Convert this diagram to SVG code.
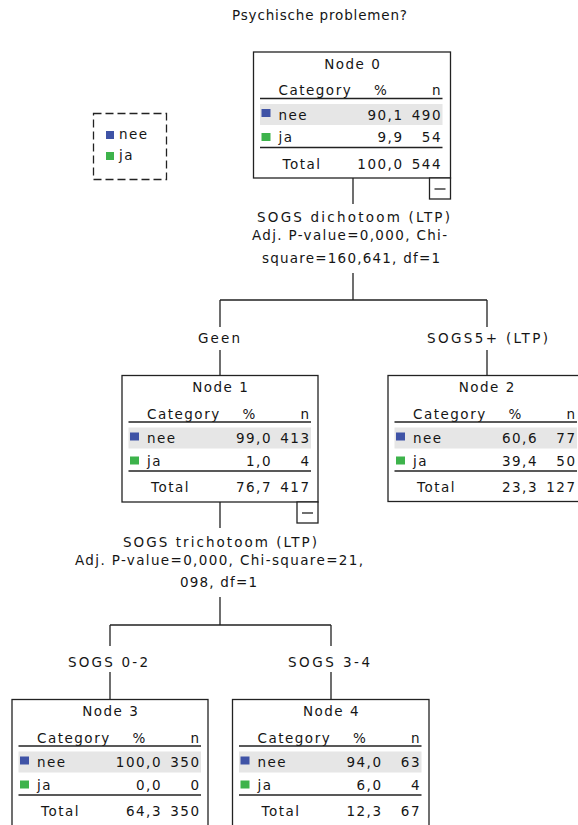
<svg xmlns="http://www.w3.org/2000/svg" width="578" height="825" viewBox="0 0 578 825">
<style>
text{font-family:"DejaVu Sans","Verdana",sans-serif;font-size:13.5px;fill:#151515;letter-spacing:1.5px}
.m{text-anchor:middle}
.e{text-anchor:end}
.lbl{letter-spacing:0;font-size:13.5px}
.box{fill:#fff;stroke:#222;stroke-width:1.3}
.ln{stroke:#222;stroke-width:1.3;fill:none}
.bg{fill:#e6e6e6}
.blue{fill:#3f53a6}
.green{fill:#3db34b}
</style>
<rect width="578" height="825" fill="#fff"/>
<text class="m lbl" x="319.5" y="20" textLength="175" lengthAdjust="spacing">Psychische problemen?</text>

<g id="legend">
<rect x="93.5" y="113.5" width="73" height="66" fill="none" stroke="#222" stroke-width="1.3" stroke-dasharray="8,4"/>
<rect class="blue" x="106" y="131" width="8" height="8"/>
<text x="119" y="139">nee</text>
<rect class="green" x="106" y="152" width="8" height="8"/>
<text x="119" y="160">ja</text>
</g>

<g id="connectors">
<path class="ln" d="M353,178V204M353,273V300M220,300H487M220,300V327M487,300V327M220,350V375M487,350V375"/>
<path class="ln" d="M220,502V528M220,597V625M110,625H331M110,625V646M331,625V646M110,672V699M331,672V699"/>
<text class="m lbl" x="353.5" y="222" textLength="193" lengthAdjust="spacing">SOGS dichotoom (LTP)</text>
<text class="m lbl" x="349.5" y="240" textLength="195" lengthAdjust="spacing">Adj. P-value=0,000, Chi-</text>
<text class="m lbl" x="351" y="263" textLength="178" lengthAdjust="spacing">square=160,641, df=1</text>
<text class="m lbl" x="219" y="343" textLength="42" lengthAdjust="spacing">Geen</text>
<text class="m lbl" x="487.5" y="343" textLength="121" lengthAdjust="spacing">SOGS5+ (LTP)</text>
<text class="m lbl" x="220" y="547" textLength="194" lengthAdjust="spacing">SOGS trichotoom (LTP)</text>
<text class="m lbl" x="219" y="565" textLength="288" lengthAdjust="spacing">Adj. P-value=0,000, Chi-square=21,</text>
<text class="m lbl" x="218.5" y="587" textLength="77" lengthAdjust="spacing">098, df=1</text>
<text class="m lbl" x="108" y="667" textLength="80" lengthAdjust="spacing">SOGS 0-2</text>
<text class="m lbl" x="329" y="667" textLength="82" lengthAdjust="spacing">SOGS 3-4</text>
</g>

<g id="node0" transform="translate(253.5,52)">
<rect class="box" x="0" y="0" width="197" height="126"/>
<text class="m" x="99.25" y="16.5">Node 0</text>
<text x="25" y="43">Category</text><text class="m" x="127.75" y="43">%</text><text class="e" x="188.5" y="43">n</text>
<path class="ln" d="M6.5,46.5H189"/>
<rect class="bg" x="6.5" y="52" width="182.5" height="21"/>
<rect class="blue" x="8" y="57" width="9" height="8"/>
<text x="25" y="67.5">nee</text><text class="e" x="150" y="67.5">90,1</text><text class="e" x="188.5" y="67.5">490</text>
<rect class="green" x="8" y="81" width="9" height="8"/>
<text x="25" y="90">ja</text><text class="e" x="150" y="90">9,9</text><text class="e" x="188.5" y="90">54</text>
<path class="ln" d="M6.5,95.5H189"/>
<text x="29" y="116.5">Total</text><text class="e" x="150" y="116.5">100,0</text><text class="e" x="188.5" y="116.5">544</text>
<rect class="box" x="176" y="126" width="21" height="21"/>
<path class="ln" d="M181,137H192"/>
</g>

<g id="node1" transform="translate(122,375.5)">
<rect class="box" x="0" y="0" width="196" height="126.5"/>
<text class="m" x="98.75" y="16.5">Node 1</text>
<text x="25" y="43">Category</text><text class="m" x="127.75" y="43">%</text><text class="e" x="188.5" y="43">n</text>
<path class="ln" d="M6.5,46.5H189"/>
<rect class="bg" x="6.5" y="52" width="182.5" height="21"/>
<rect class="blue" x="8" y="57" width="9" height="8"/>
<text x="25" y="67.5">nee</text><text class="e" x="150" y="67.5">99,0</text><text class="e" x="188.5" y="67.5">413</text>
<rect class="green" x="8" y="81" width="9" height="8"/>
<text x="25" y="90">ja</text><text class="e" x="150" y="90">1,0</text><text class="e" x="188.5" y="90">4</text>
<path class="ln" d="M6.5,95.5H189"/>
<text x="29" y="116.5">Total</text><text class="e" x="150" y="116.5">76,7</text><text class="e" x="188.5" y="116.5">417</text>
<rect class="box" x="175" y="126.5" width="21" height="21"/>
<path class="ln" d="M180,137.5H191"/>
</g>

<g id="node2" transform="translate(388,375.5)">
<rect class="box" x="0" y="0" width="197" height="126"/>
<text class="m" x="99.25" y="16.5">Node 2</text>
<text x="25" y="43">Category</text><text class="m" x="127.75" y="43">%</text><text class="e" x="188.5" y="43">n</text>
<path class="ln" d="M6.5,46.5H189"/>
<rect class="bg" x="6.5" y="52" width="182.5" height="21"/>
<rect class="blue" x="8" y="57" width="9" height="8"/>
<text x="25" y="67.5">nee</text><text class="e" x="150" y="67.5">60,6</text><text class="e" x="188.5" y="67.5">77</text>
<rect class="green" x="8" y="81" width="9" height="8"/>
<text x="25" y="90">ja</text><text class="e" x="150" y="90">39,4</text><text class="e" x="188.5" y="90">50</text>
<path class="ln" d="M6.5,95.5H189"/>
<text x="29" y="116.5">Total</text><text class="e" x="150" y="116.5">23,3</text><text class="e" x="188.5" y="116.5">127</text>
</g>

<g id="node3" transform="translate(12,699.5)">
<rect class="box" x="0" y="0" width="196" height="135"/>
<text class="m" x="98.75" y="16.5">Node 3</text>
<text x="25" y="43">Category</text><text class="m" x="127.75" y="43">%</text><text class="e" x="188.5" y="43">n</text>
<path class="ln" d="M6.5,46.5H189"/>
<rect class="bg" x="6.5" y="52" width="182.5" height="21"/>
<rect class="blue" x="8" y="57" width="9" height="8"/>
<text x="25" y="67.5">nee</text><text class="e" x="150" y="67.5">100,0</text><text class="e" x="188.5" y="67.5">350</text>
<rect class="green" x="8" y="81" width="9" height="8"/>
<text x="25" y="90">ja</text><text class="e" x="150" y="90">0,0</text><text class="e" x="188.5" y="90">0</text>
<path class="ln" d="M6.5,95.5H189"/>
<text x="29" y="116.5">Total</text><text class="e" x="150" y="116.5">64,3</text><text class="e" x="188.5" y="116.5">350</text>
</g>

<g id="node4" transform="translate(232.5,699.5)">
<rect class="box" x="0" y="0" width="196.5" height="135"/>
<text class="m" x="99" y="16.5">Node 4</text>
<text x="25" y="43">Category</text><text class="m" x="127.75" y="43">%</text><text class="e" x="188.5" y="43">n</text>
<path class="ln" d="M6.5,46.5H189"/>
<rect class="bg" x="6.5" y="52" width="182.5" height="21"/>
<rect class="blue" x="8" y="57" width="9" height="8"/>
<text x="25" y="67.5">nee</text><text class="e" x="150" y="67.5">94,0</text><text class="e" x="188.5" y="67.5">63</text>
<rect class="green" x="8" y="81" width="9" height="8"/>
<text x="25" y="90">ja</text><text class="e" x="150" y="90">6,0</text><text class="e" x="188.5" y="90">4</text>
<path class="ln" d="M6.5,95.5H189"/>
<text x="29" y="116.5">Total</text><text class="e" x="150" y="116.5">12,3</text><text class="e" x="188.5" y="116.5">67</text>
</g>
</svg>
